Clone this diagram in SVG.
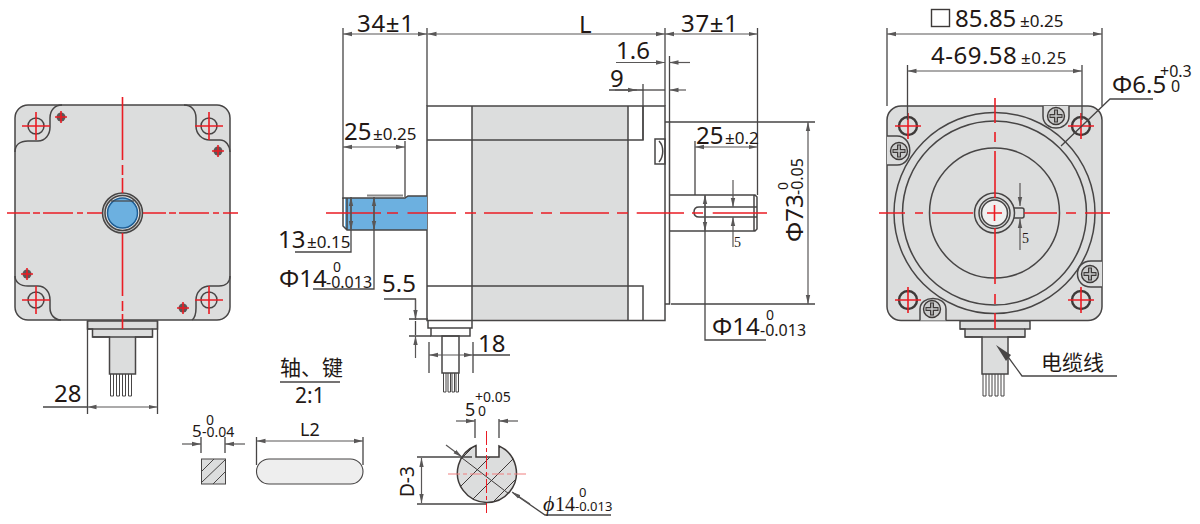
<svg xmlns="http://www.w3.org/2000/svg" width="1200" height="524" viewBox="0 0 1200 524">
<style>
text{font-family:"Noto Sans","Noto Sans CJK SC",sans-serif;fill:#231815}
.a{font-size:24px}.b{font-size:17px}.c{font-size:16px}.n{font-size:14px}.z{font-size:21px}
.s{font-family:"Liberation Serif",serif;font-size:14px}
.l{fill:none;stroke:#474545;stroke-width:1.3}
.o{fill:none;stroke:#474545;stroke-width:1.5}
.g{fill:#dcdddd;stroke:#474545;stroke-width:1.5}
.w{fill:#dcdddd;stroke:#474545;stroke-width:1.5}
.r{fill:none;stroke:#ea1c24;stroke-width:1.6}
.d{fill:none;stroke:#595757;stroke-width:1.2;marker-end:url(#ar);marker-start:url(#ar)}
.e{fill:none;stroke:#595757;stroke-width:1.2;marker-end:url(#ar)}
.h{fill:none;stroke:#474545;stroke-width:1}
</style>
<defs>
<marker id="ar" markerUnits="userSpaceOnUse" markerWidth="10" markerHeight="6" refX="9" refY="3" orient="auto-start-reverse"><path d="M0 .8L9 3L0 5.200z" fill="#595757"/></marker>
<g id="hole"><circle r="8" class="g"/><path d="M-14 0H14M0-14V14" class="r"/></g>
<g id="hole2"><circle r="9" fill="#dcdddd" stroke="#3e3a39" stroke-width="2.400"/><path d="M-13 0H13M0-13V13" class="r"/></g>
<g id="sm"><circle r="4.500" fill="#5a5757"/><path d="M-6 0H6M0-6V6" class="r"/></g>
<g id="screw"><circle r="8.500" fill="#c9caca" stroke="#3e3a39" stroke-width="1.400"/><path d="M-6.500 0H6.500M0-6.500V6.500" stroke="#3e3a39" stroke-width="4"/><path d="M-5.500 0H5.500M0-5.500V5.500" stroke="#c9caca" stroke-width="1.400"/></g>
<g id="conn"><path d="M0 0H70V8H65V16H48V53H22V16H5V8H0z" class="g"/><path d="M0 8H65M5 16H65" class="o"/><path d="M23 53V75H26V53M29 53V75H32V53M35 53V75H38V53M41 53V75H44V53" class="h"/></g>
<clipPath id="sec"><path d="M476 445.500A29.500 29.500 0 1 0 499 446V457H476z"/></clipPath>
</defs>

<g id="front-view">
<rect x="15" y="105" width="215" height="215" rx="13" class="g"/>
<path d="M15 152C15 145 20 141 28 141H38C45 141 50 135 50 127V118C50 110 55 105 62 105M184 105C191 105 196 110 196 118V126C196 134 202 140 210 140H220C226 140 230 146 230 152M15 276C15 282 20 286 28 286H38C45 286 50 292 50 300V308C50 315 55 320 61 320M192 320C195 318 196 314 196 308V300C196 292 202 286 210 286H219C226 286 230 282 230 276" class="o"/>
<use href="#hole" x="36" y="126"/><use href="#hole" x="209" y="126"/><use href="#hole" x="36" y="300"/><use href="#hole" x="209" y="300"/>
<use href="#sm" x="61" y="117"/><use href="#sm" x="218" y="151"/><use href="#sm" x="27" y="274"/><use href="#sm" x="183" y="308"/>
<circle cx="122.500" cy="213" r="20" fill="#c9caca" stroke="#474545" stroke-width="1.500"/>
<circle cx="122.500" cy="213" r="17.500" fill="#e8e8e8" stroke="#474545" stroke-width="1.500"/>
<circle cx="122.500" cy="213" r="15" fill="#6cb0e0" stroke="#1f5f96" stroke-width="1.500"/>
<path d="M111 201H134" stroke="#474545" stroke-width="1.200"/>
<use href="#conn" x="87.500" y="321"/>
<path d="M7 213H102M143 213H238" class="r" stroke-dasharray="23 3 7 3 30 4 6 4"/>
<path d="M122.500 97V193M122.500 233V329" class="r" stroke-dasharray="63 5 10 3"/>
<path d="M87.500 321V414M157.500 321V414M43 407H87.500" class="l"/>
<path d="M87.500 407H157.500" class="d"/>
<text class="a" x="54" y="402">28</text>
</g>

<g id="side-view">
<rect x="472" y="106" width="156" height="214" fill="#dcdddd"/>
<path d="M427 106H665V320.500H427zM472 106V320.500M628 106V320.500M427 140H643V106M427 286H643V320.500" class="o"/>
<path d="M665 122H669.500V304H665" class="o"/>
<path d="M655 139H665V164H655zM659 141C664 146 664 156 659 162" class="o" stroke-width="1.100"/>
<path d="M345 198H405L408 196H427V230H347L345 228z" fill="#6cb0e0"/>
<path d="M427 196H408L405 198H343V226L347 230H427M347 198V230" class="o"/>
<path d="M367 195.500H403" stroke="#8a8a8a" stroke-width="2.200"/>
<path d="M428 320.500V328H472V320.500M431 328V336H470V328" class="o"/>
<path d="M442 336H459V373H442z" class="o"/>
<path d="M443.500 373V392H446V373M448 373V392H450.500V373M452 373V392H454.500V373M456 373V392H458.500V373" class="h"/>
<path d="M669.500 195H755L757 197V229L755 231H669.500M699 207H757V217H699Q694 217 694 212T699 207ZM754 195V231" class="o"/>
<path d="M326 213H381M387 213H398M407.500 213H456M465 213H476M484 213H533M541 213H552M560 213H609M617 213H628M636.700 213H684M692 213H703M712.700 213H767" class="r"/>

<path d="M343 28V199M427 28V106M665 28V106M757.500 28V195M669.500 56V122M670 122H815M671 304H815" class="l"/>
<text class="a" x="357" y="32" style="letter-spacing:.7px">34±1</text>
<path d="M343 34H427" class="d"/>
<path d="M427.500 34H665" class="d"/>
<text class="a" x="579" y="33">L</text>
<text class="a" x="681" y="32" style="letter-spacing:.7px">37±1</text>
<path d="M665 34H757.500" class="d"/>
<text class="a" x="616" y="59">1.6</text>
<path d="M616 62.500H665" class="e"/><path d="M690 62.500H669.500" class="e"/>
<text class="a" x="610" y="87">9</text>
<path d="M643 84V140M609 90H643" class="l"/><path d="M615 90H637" class="e"/><path d="M643 90H665" class="l"/><path d="M686 90H669.500" class="e"/>
<text class="a" x="344" y="140">25<tspan class="b" x="373">±0.25</tspan></text>
<path d="M405 141V197" class="l"/><path d="M343 147H405" class="d"/>
<text class="a" x="696" y="144">25<tspan class="b" x="725">±0.2</tspan></text>
<path d="M695 141V195" class="l"/><path d="M695 147H757.500" class="d"/>
<text class="a" x="278" y="248">13<tspan class="b" x="307">±0.15</tspan></text>
<path d="M295 252H351V197" class="l"/><path d="M351 197V230" class="d"/>
<text class="a" x="279" y="287">Φ14<tspan class="n" x="333" y="272">0</tspan><tspan class="c" x="326" y="288">-0.013</tspan></text>
<path d="M313 289H374V197" class="l"/><path d="M374 197V230" class="d"/>
<text class="a" x="382" y="292">5.5</text>
<path d="M384 299H415.500V320M409 319H428M409 336H431" class="l"/>
<path d="M415.500 300V319" class="e"/><path d="M415.500 358V336" class="e"/>
<path d="M415.500 321V335" class="l"/>
<text class="a" x="478" y="352">18</text>
<path d="M429 342V373M473 342V373M473 355H510" class="l"/><path d="M429 355H473" class="d"/>
<path d="M705 195V340H766" class="l"/><path d="M705 195V231" class="d"/>
<text class="a" x="712" y="335">Φ14<tspan class="n" x="766" y="320">0</tspan><tspan class="c" x="760" y="336">-0.013</tspan></text>
<path d="M733 180V207" class="e"/><path d="M733 247V217" class="e"/>
<text class="s" x="734" y="247">5</text>
<path d="M808 122V304" class="d"/>
<text class="a" transform="translate(803 242) rotate(-90)" x="0" y="0">Φ73<tspan class="n" x="52" y="-15">0</tspan><tspan class="c" x="47" y="0">-0.05</tspan></text>
</g>

<g id="rear-view">
<rect x="887" y="106" width="215" height="214.500" rx="14" class="g"/>
<circle cx="994.500" cy="213" r="100.500" class="o"/>
<circle cx="994.500" cy="213" r="92" class="o"/>
<circle cx="994.500" cy="213" r="65" class="o"/>
<path d="M1043 106V116C1043 132 1069 132 1069 116V106" class="g"/>
<path d="M887 136H897C914 136 914 165 897 165H887" class="g"/>
<path d="M1102 261H1091C1073 261 1073 287 1091 287H1102" class="g"/>
<path d="M920 320.500V309C920 295 946 295 946 309V320.500" class="g"/>
<use href="#screw" x="1056" y="116"/><use href="#screw" x="899" y="151"/><use href="#screw" x="1090" y="274"/><use href="#screw" x="932" y="309"/>
<use href="#hole2" x="908" y="126"/><use href="#hole2" x="1081" y="126"/><use href="#hole2" x="908" y="300"/><use href="#hole2" x="1081" y="300"/>
<path d="M1011 208H1022Q1024 208 1024 210V216Q1024 218 1022 218H1011" class="w"/>
<circle cx="994.500" cy="213" r="20" class="g"/>
<circle cx="994.500" cy="213" r="15.500" class="o"/>
<circle cx="994.500" cy="213" r="13" fill="#efefef" stroke="#474545" stroke-width="1.500"/>
<use href="#conn" x="960" y="321"/>
<path d="M879 213H905M915 213H923M932 213H973M1024 213H1057M1066 213H1076M1085 213H1110" class="r"/>
<path d="M995 98V123M995 132V142M995 151V198M995 228V284M995 294V304M995 313V329" class="r"/>
<path d="M987 213H1002M994.500 205V221" class="r"/>
<path d="M1020 183V206" class="e"/><path d="M1020 250V219" class="e"/>
<text class="s" x="1022" y="243">5</text>
<path d="M887 28V106M1102 28V106M907.500 65V120M1082 65V120" class="l"/>
<rect x="931.500" y="9.500" width="18" height="17" fill="none" stroke="#3e3a39" stroke-width="1.400"/>
<text class="a" x="955" y="27">85.85<tspan class="b" x="1020">±0.25</tspan></text>
<path d="M887 34H1102" class="d"/>
<text class="a" x="931" y="64" style="letter-spacing:.5px">4-69.58<tspan class="b" x="1021">±0.25</tspan></text>
<path d="M907.500 71H1082" class="d"/>
<text class="a" x="1112" y="93">Φ6.5<tspan class="c" x="1160" y="77">+0.3</tspan><tspan class="c" x="1171" y="92">0</tspan></text>
<path d="M1061 146L1110 99H1153" class="l"/>
<path d="M1117 376H1022L1006 354" class="l"/><path d="M996 345L1011 355L1006 361z" fill="#474545"/>
<text class="z" x="1041" y="370">电缆线</text>
</g>

<g id="key-detail">
<text class="z" x="280" y="375">轴、键</text>
<path d="M280 382H340" class="l"/>
<text x="295" y="403" style="font-size:21px">2:1</text>
<text x="192" y="437" style="font-size:17px">5<tspan class="n" x="206" y="425">0</tspan><tspan class="n" x="202" y="437">-0.04</tspan></text>
<path d="M201 437V453M225 437V453" class="l"/>
<path d="M182 444H201" class="e"/><path d="M245 444H225" class="e"/>
<rect x="201.500" y="459" width="24" height="25" fill="#dcdddd" stroke="#474545" stroke-width="1"/>
<path d="M202 471L214 459M202 482L225 460M213 484L226 471" class="h"/>
<text x="300" y="436" style="font-size:18px">L2</text>
<path d="M256.500 437V465M363 437V465" class="l"/><path d="M256.500 441H363" class="d"/>
<rect x="256.500" y="459" width="106.500" height="25" rx="12.500" fill="#eeeeee" stroke="#474545" stroke-width="1.100"/>
</g>

<g id="shaft-section">
<path d="M476 445.500A29.500 29.500 0 1 0 499 446V457H476z" fill="#dcdddd" stroke="#3e3a39" stroke-width="1.500"/>
<g clip-path="url(#sec)"><path d="M450 470L480 440M450 497L505 442M462 510L530 442M485 510L530 465M445 445L530 510" stroke="#3e3a39" stroke-width="1" fill="none"/></g>
<path d="M475 419V438M499 419V438" class="l"/>
<path d="M456 421H475" class="e"/><path d="M518 421H499" class="e"/>
<text x="465" y="416" style="font-size:18px">5<tspan class="n" x="475" y="402">+0.05</tspan><tspan class="n" x="478" y="416">0</tspan></text>
<path d="M417 457H472M417 504H486" class="l"/><path d="M421.500 458V503" class="d"/>
<text transform="translate(414 497) rotate(-90)" style="font-size:19px">D-3</text>
<path d="M446 445L462 457" class="e"/>
<path d="M611 515H545L513 493" class="l"/><path d="M530 504L512 492" class="e"/>
<text x="543" y="511" style="font-family:'Liberation Serif',serif;font-size:22px;font-style:italic">ϕ<tspan x="555" style="font-size:20px;font-style:normal">14</tspan><tspan x="579" y="497" style="font-family:'Noto Sans',sans-serif;font-size:13px;font-style:normal">0</tspan><tspan x="575" y="511" style="font-family:'Noto Sans',sans-serif;font-size:13px;font-style:normal">-0.013</tspan></text>
<path d="M448 474H528" stroke="#f08080" stroke-width="1.200" stroke-dasharray="12 3 4 3" fill="none"/>
<path d="M486.500 431V513" stroke="#ea1c24" stroke-width="1" stroke-dasharray="14 3 4 3" fill="none"/>
</g>
</svg>
